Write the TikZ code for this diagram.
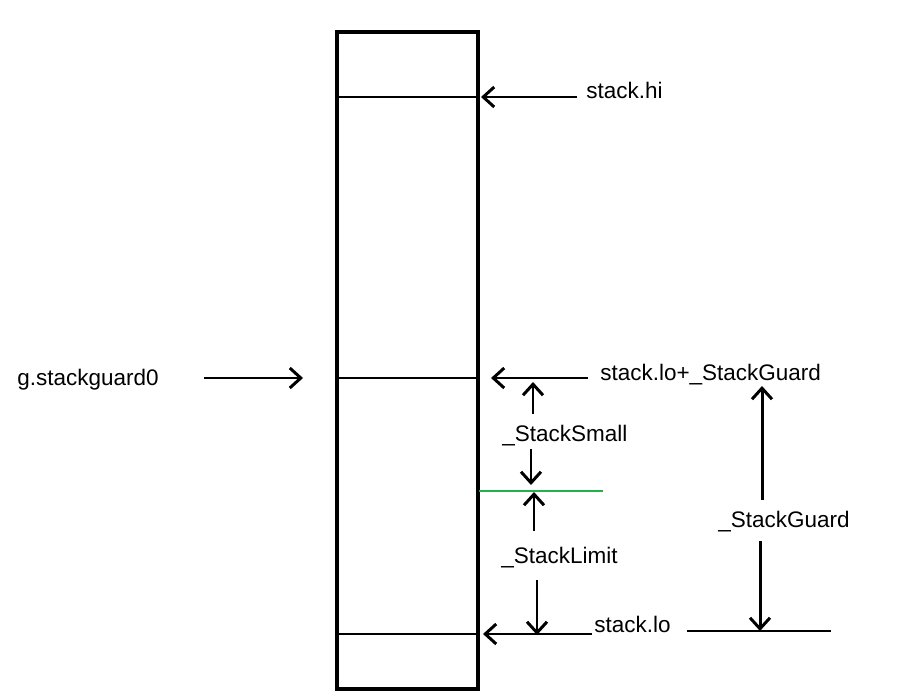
\documentclass[tikz,border=0pt]{standalone}
\usepackage{fontspec}
\setmainfont{Liberation Sans}
\usetikzlibrary{arrows.meta}
\definecolor{guardgreen}{RGB}{34,177,76}

\begin{document}
\begin{tikzpicture}[x=0.02cm, y=-0.02cm, every node/.style={font=\fontsize{12.8}{15}\selectfont, inner sep=0pt, anchor=base west}, >={Straight Barb[length=2.2mm, width=4mm]}, arr/.style={->, line width=1.7pt}]
	\useasboundingbox (0,0) rectangle (903,699);
	\draw[line width=2.5pt] (337,32) rectangle (478,689);
	\foreach \y/\n in {97/hi, 378/sg, 634/lo} {
		\coordinate (l\n) at (338,\y);
		\coordinate (r\n) at (478,\y);
		\draw[line width=1.2pt] (l\n) -- (r\n);
	}
	\node (hi) at (586,99) {stack.hi};
	\node (sg0) at (17,385) {g.stackguard0};
	\node (loguard) at (600,380) {stack.lo+\_StackGuard};
	\node (small) at (502,441) {\_StackSmall};
	\node (limit) at (501,563) {\_StackLimit};
	\node (lo) at (594,632) {stack.lo};
	\node (guard) at (718,527) {\_StackGuard};
	\foreach \n/\x/\y in {hia/577/97, hib/481/97, sga/204/378, sgb/303/378, lga/588/378, lgb/491/378,
		sma/533/414, smb/533/382, smc/531/449, smd/531/485, lia/534/531, lib/534/492, lic/537/580, lid/537/635,
		loa/592/634, lob/483/634, gda/762/500, gdb/762/386, gdc/760/541, gdd/760/631,
		gra/479/491, grb/603/491, lra/687/631, lrb/831/631} {
		\coordinate (\n) at (\x,\y);
	}
	\foreach \a/\b in {hia/hib, sga/sgb, lga/lgb, sma/smb, smc/smd, lia/lib, lic/lid, loa/lob, gda/gdb, gdc/gdd} {
		\draw[arr] (\a) -- (\b);
	}
	\draw[guardgreen, line width=1.6pt] (gra) -- (grb);
	\draw[line width=1.7pt] (lra) -- (lrb);
\end{tikzpicture}
\end{document}
